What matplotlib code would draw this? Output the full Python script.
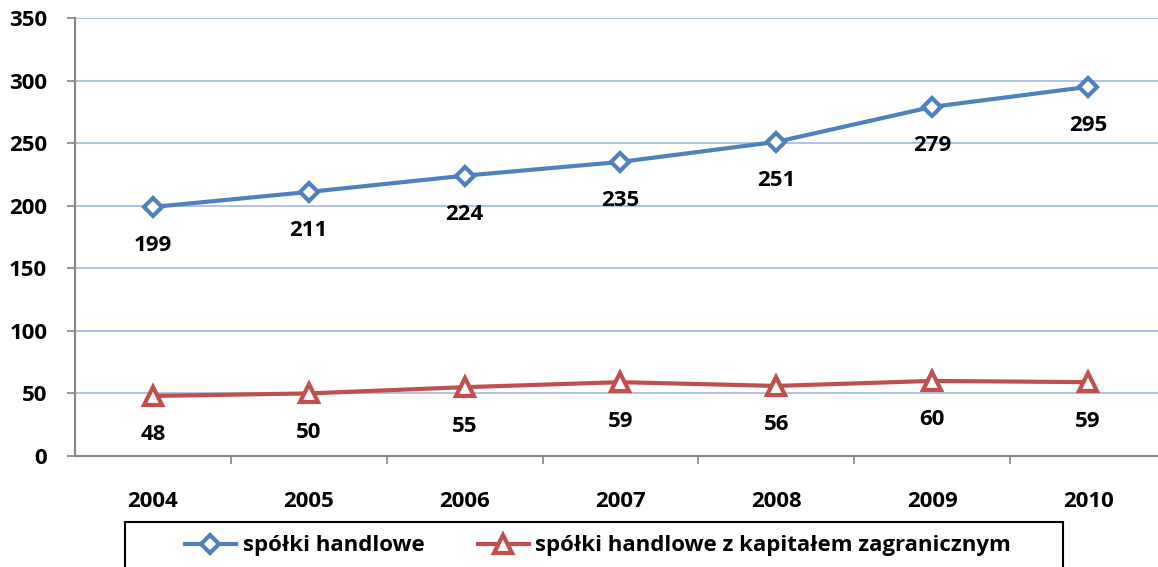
import matplotlib
matplotlib.use("Agg")
import matplotlib.pyplot as plt
from matplotlib.patches import Rectangle

years = ["2004", "2005", "2006", "2007", "2008", "2009", "2010"]
handlowe = [199, 211, 224, 235, 251, 279, 295]
zagraniczne = [48, 50, 55, 59, 56, 60, 59]
labels = ["spółki handlowe", "spółki handlowe z kapitałem zagranicznym"]

BLUE, RED, GRID, AXIS = "#4F81BD", "#C0504D", "#A7BFE0", "#868686"
plt.rcParams.update({"font.family": ["Open Sans", "DejaVu Sans"], "font.weight": "bold", "font.size": 16})

fig = plt.figure(figsize=(11.58, 5.67), dpi=100)
ax = fig.add_axes([75 / 1158, 1 - 456 / 567, 1091 / 1158, 438 / 567])
x = list(range(len(years)))

ax.plot(x, handlowe, color=BLUE, lw=3, marker="D", ms=9, mfc="white", mec=BLUE, mew=3,
        label=labels[0], zorder=4, clip_on=False)
ax.plot(x, zagraniczne, color=RED, lw=3, marker="^", ms=13, mfc="white", mec=RED, mew=3,
        label=labels[1], zorder=4, clip_on=False)
for xi, v in zip(x, handlowe):
    ax.annotate(str(v), (xi, v), xytext=(0, -28), textcoords="offset points", ha="center", va="center",
                fontweight="bold")
for xi, v in zip(x, zagraniczne):
    ax.annotate(str(v), (xi, v), xytext=(0, -28), textcoords="offset points", ha="center", va="center",
                fontweight="bold")

ax.set_xlim(-0.5, len(years) - 0.5)
ax.set_ylim(0, 350)
ax.set_yticks(range(0, 351, 50))
ax.set_xticks(x)
ax.set_xticklabels(years, fontweight="bold")
ax.set_yticklabels([str(v) for v in range(0, 351, 50)], fontweight="bold")
ax.set_xticks([i + 0.5 for i in x[:-1]], minor=True)
ax.tick_params(axis="x", which="major", length=0, pad=25)
ax.tick_params(axis="x", which="minor", length=6, color=AXIS, width=1.2, direction="out")
ax.tick_params(axis="y", length=6, color=AXIS, width=1.2, pad=14)
ax.grid(axis="y", color=GRID, lw=1.3)
ax.set_axisbelow(True)
for s in ("top", "right"):
    ax.spines[s].set_visible(False)
for s in ("left", "bottom"):
    ax.spines[s].set_color(AXIS)
    ax.spines[s].set_linewidth(1.5)

fig.patches.append(Rectangle((125 / 1158, -0.1), (1063 - 125) / 1158, 0.1 + (1 - 522 / 567),
                             transform=fig.transFigure, fill=False, edgecolor="black", lw=1.5))
fig.legend(loc="center", bbox_to_anchor=(598 / 1158, 1 - 546 / 567), ncol=2, frameon=False,
           handlelength=2.3, columnspacing=2.4, handletextpad=0.3,
           prop={"weight": "bold", "size": 16})

fig.savefig("out.png", dpi=100)
